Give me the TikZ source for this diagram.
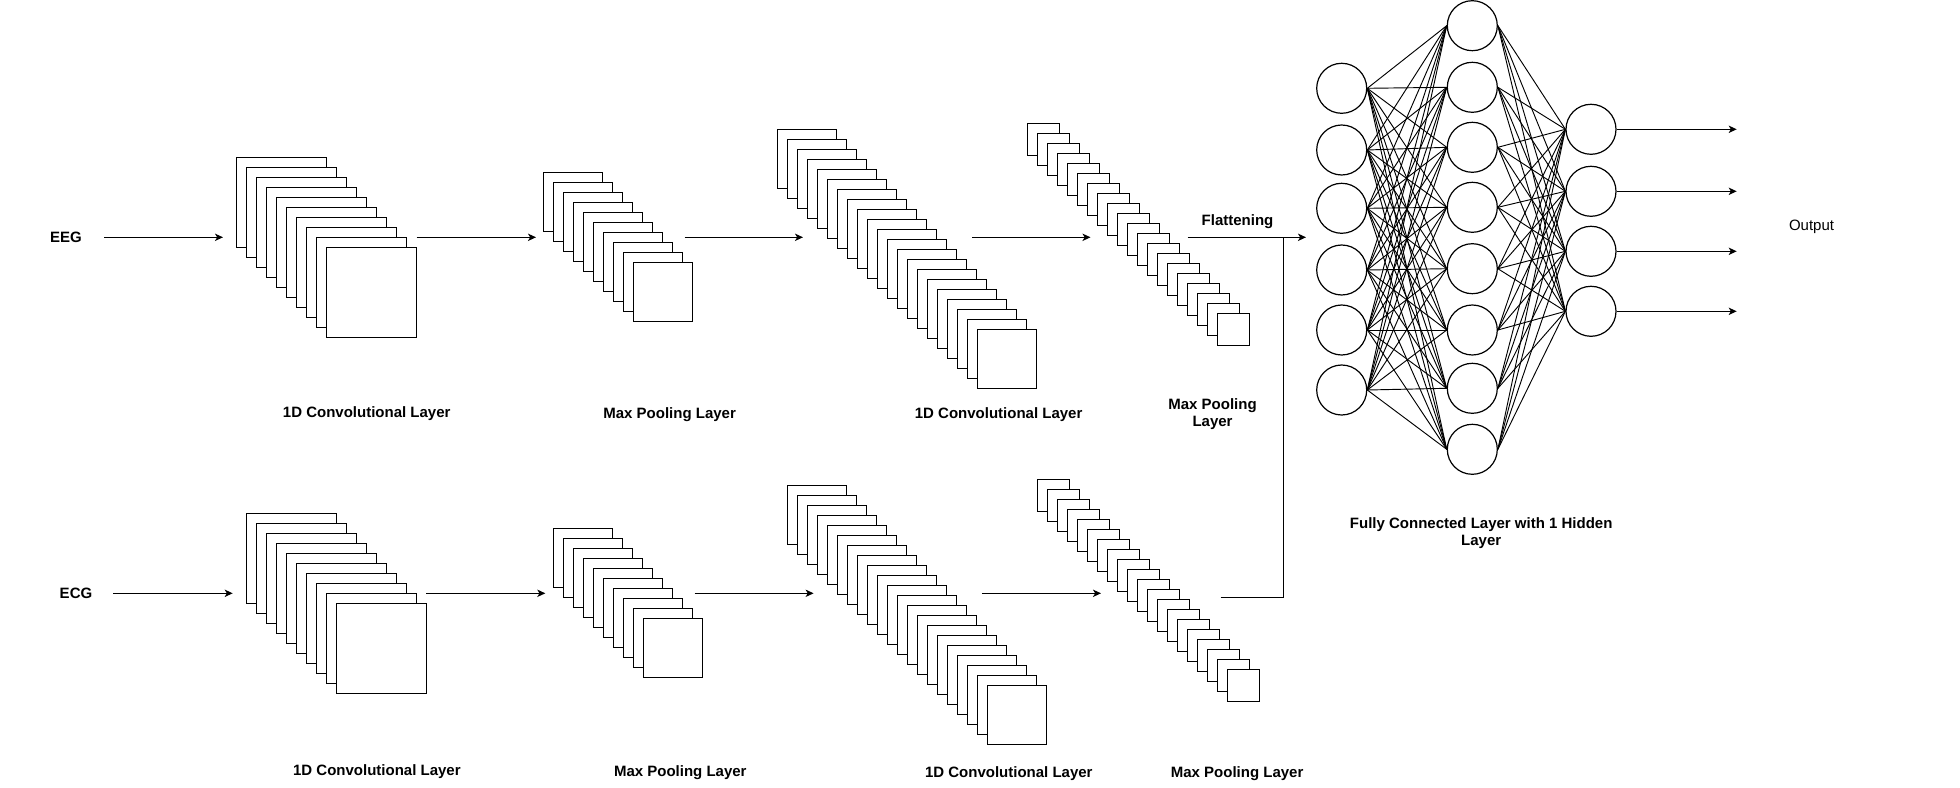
\documentclass[tikz,border=0pt]{standalone}
\usepackage{fontspec}
\setmainfont{Liberation Sans}
\usetikzlibrary{arrows.meta}

\tikzset{
  layer/.style={draw, fill=white, line width=0.9pt},
  flow/.style={-{Stealth[length=6pt,width=5.5pt,inset=1.6pt]}, line width=0.9pt},
  neuron/.style={circle, draw, fill=white, line width=0.9pt, minimum size=37.5pt, inner sep=0pt},
  link/.style={line width=0.7pt},
  lbl/.style={font=\fontsize{11.25}{13.3}\selectfont\bfseries, align=center, inner sep=0pt},
}

\begin{document}
\begin{tikzpicture}[x=0.75pt, y=-0.75pt]
\useasboundingbox (0,0) rectangle (1960,788);

% EEG branch
\node[lbl] (eeg) at (66,237) {EEG};
\foreach \k in {0,...,9}
    \draw[layer] (236.3+10*\k,157.3+10*\k) rectangle ++(90,90);
\foreach \k in {0,...,9}
    \draw[layer] (543.3+10*\k,172.3+10*\k) rectangle ++(59,59);
\foreach \k in {0,...,20}
    \draw[layer] (777.5+10*\k,129.3+10*\k) rectangle ++(59,59);
\foreach \k in {0,...,19}
    \draw[layer] (1027.5+10*\k,123.3+10*\k) rectangle ++(32,32);
\foreach \a/\b [count=\n] in {104/223, 416.5/536, 684.5/803, 972/1090.5} {
    \coordinate (ta\n) at (\a,237.3);
    \coordinate (tb\n) at (\b,237.3);
    \draw[flow] (ta\n) -- (tb\n);
}
\node[lbl] (tconv1) at (366.7,414) {1D Convolutional Layer};
\node[lbl] (tpool1) at (669.6,415) {Max Pooling Layer};
\node[lbl] (tconv2) at (998.6,415) {1D Convolutional Layer};
\node[lbl] (tpool2) at (1212.5,414) {Max Pooling\\Layer};

% ECG branch
\node[lbl] (ecg) at (76,593) {ECG};
\foreach \k in {0,...,9}
    \draw[layer] (246.7+10*\k,513.3+10*\k) rectangle ++(90,90);
\foreach \k in {0,...,9}
    \draw[layer] (553.6+10*\k,528.3+10*\k) rectangle ++(59,59);
\foreach \k in {0,...,20}
    \draw[layer] (787.5+10*\k,485.3+10*\k) rectangle ++(59,59);
\foreach \k in {0,...,19}
    \draw[layer] (1037.5+10*\k,479.3+10*\k) rectangle ++(32,32);
\foreach \a/\b [count=\n] in {113/232.7, 426/545.3, 694.6/813.6, 981.8/1101} {
    \coordinate (ba\n) at (\a,593.3);
    \coordinate (bb\n) at (\b,593.3);
    \draw[flow] (ba\n) -- (bb\n);
}
\node[lbl] (bconv1) at (376.9,772) {1D Convolutional Layer};
\node[lbl] (bpool1) at (680.3,772.7) {Max Pooling Layer};
\node[lbl] (bconv2) at (1008.8,773.3) {1D Convolutional Layer};
\node[lbl] (bpool2) at (1237.1,773.3) {Max Pooling Layer};

% flattening
\coordinate (fs) at (1187.5,237.3);
\coordinate (fe) at (1306,237.3);
\coordinate (fj) at (1283.2,237.3);
\coordinate (fb) at (1220.7,597.3);
\draw[flow] (fs) -- (fe);
\draw[line width=0.9pt] (fb) -| (fj);
\node[lbl] (flat) at (1237.5,222) {Flattening};

% fully connected part
\foreach \y [count=\i] in {88.3,150,208.3,270,330,390}
    \node[neuron] (in\i) at (1341.7,\y) {};
\foreach \y [count=\i] in {25.7,87.3,147.3,207.3,268.7,330,388.3,449.3}
    \node[neuron] (h\i) at (1472.3,\y) {};
\foreach \y [count=\i] in {129.3,191.3,251.3,311.3}
    \node[neuron] (o\i) at (1591,\y) {};
\foreach \i in {1,...,6}
    \foreach \j in {1,...,8}
        \draw[link] (in\i.east) -- (h\j.west);
\foreach \j in {1,...,8}
    \foreach \k in {1,...,4}
        \draw[link] (h\j.east) -- (o\k.west);
\coordinate (oend) at (1736.7,0);
\foreach \k in {1,...,4}
    \draw[flow] (o\k.east) -- (o\k.east -| oend);
\node[lbl] (fc) at (1481.2,533) {Fully Connected Layer with 1 Hidden\\Layer};
\node[lbl, font=\fontsize{11.25}{13.3}\selectfont] (out) at (1811.5,226.7) {Output};
\end{tikzpicture}
\end{document}
